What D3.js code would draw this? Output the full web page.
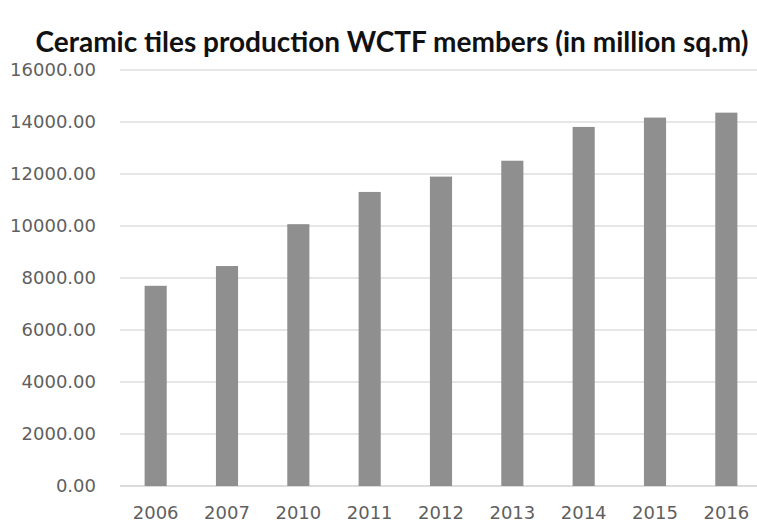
<!DOCTYPE html>
<html lang="en">
<head>
<meta charset="UTF-8" />
<title>Ceramic tiles production</title>
<script src="https://d3js.org/d3.v7.min.js"></script>
<style>
    body { margin: 0; background: #fff; }
    .title { font-family: Lato, sans-serif; font-weight: bold; font-size: 28px; fill: #111; }
    .tick text { font-family: "DejaVu Sans", sans-serif; font-size: 18px; fill: #5f5f5f; }
</style>
</head>
<body>
<svg id="chart" width="757" height="529"></svg>
<script>
    var w = 757;
    var h = 529;

    // data
    var years = ["2006", "2007", "2010", "2011", "2012", "2013", "2014", "2015", "2016"];
    var production = [7700, 8460, 10070, 11310, 11900, 12510, 13810, 14170, 14360];
    var yTicks = [0, 2000, 4000, 6000, 8000, 10000, 12000, 14000, 16000];

    var svg = d3.select("#chart");

    // plot area (right edge runs past the picture, like the reference)
    var plotLeft = 120, plotRight = 762, plotTop = 70, plotBottom = 486;

    var xScale = d3.scaleBand()
        .domain(years)
        .range([plotLeft, plotRight])
        .paddingInner(0.69)
        .paddingOuter(0.345);

    var yScale = d3.scaleLinear()
        .domain([0, 16000])
        .range([plotBottom, plotTop]);

    // gridlines
    svg.append("g")
        .selectAll("line")
        .data(yTicks)
        .enter()
        .append("line")
        .attr("x1", plotLeft)
        .attr("x2", w)
        .attr("y1", d => yScale(d))
        .attr("y2", d => yScale(d))
        .attr("stroke", d => d === 0 ? "#cfcfcf" : "#dedede")
        .attr("stroke-width", 1.5);

    // bars
    svg.append("g")
        .selectAll("rect")
        .data(production)
        .enter()
        .append("rect")
        .attr("x", (d, i) => xScale(years[i]))
        .attr("y", d => yScale(d))
        .attr("width", xScale.bandwidth())
        .attr("height", d => plotBottom - yScale(d))
        .attr("fill", "#8f8f8f");

    // y axis labels
    var yAxis = svg.append("g")
        .attr("transform", "translate(" + (plotLeft - 21) + ",0)")
        .call(d3.axisLeft(yScale).tickValues(yTicks).tickFormat(d3.format(".2f")).tickSize(0));
    yAxis.select(".domain").remove();

    // x axis labels
    var xAxis = svg.append("g")
        .attr("transform", "translate(0," + (plotBottom + 17) + ")")
        .call(d3.axisBottom(xScale).tickSize(0));
    xAxis.select(".domain").remove();

    // title
    svg.append("text")
        .attr("class", "title")
        .attr("x", 392)
        .attr("y", 52)
        .attr("text-anchor", "middle")
        .text("Ceramic tiles production WCTF members (in million sq.m)");
</script>
</body>
</html>
